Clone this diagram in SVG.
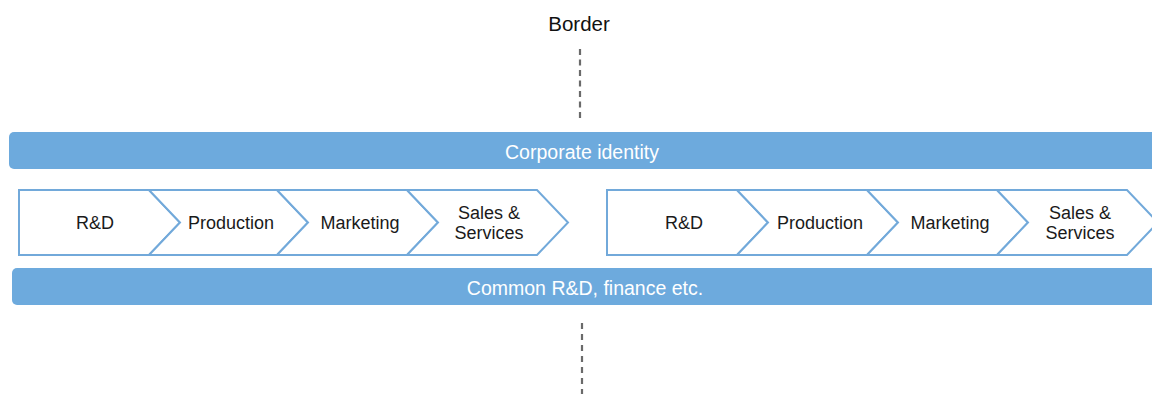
<svg xmlns="http://www.w3.org/2000/svg" width="1152" height="394" viewBox="0 0 1152 394">
<style>
.bar{fill:#6daadd}
.chev{fill:#ffffff;stroke:#72a9da;stroke-width:2;stroke-linejoin:miter}
.lbl{font-family:"Liberation Sans",Arial,sans-serif;font-size:18px;fill:#1a1a1a;text-anchor:middle;dominant-baseline:central}
.blbl{font-family:"Liberation Sans",Arial,sans-serif;font-size:19.5px;fill:#ffffff;text-anchor:middle;dominant-baseline:central}
.dash{stroke:#6a6a6a;stroke-width:2.2;fill:none}
</style>
<rect width="1152" height="394" fill="#ffffff"/>
<g id="connectors">
<line class="dash" x1="580" y1="49" x2="580" y2="119" stroke-dasharray="6,4.5"/>
<line class="dash" x1="582" y1="323" x2="582" y2="394" stroke-dasharray="6,5"/>
</g>
<g id="border-label"><text x="579" y="23" class="lbl" style="font-size:20.5px;fill:#111">Border</text></g>
<g id="corporate-identity">
<rect class="bar" x="9" y="132" width="1160" height="37" rx="5"/>
<text class="blbl" x="582" y="152">Corporate identity</text>
</g>
<g id="common">
<rect class="bar" x="12" y="268" width="1160" height="37" rx="5"/>
<text class="blbl" x="585" y="288">Common R&amp;D, finance etc.</text>
</g>
<g id="rd1">
<polygon class="chev" points="19,190 149,190 180,222.5 149,255 19,255"/>
<text class="lbl" x="95" y="223">R&amp;D</text>
</g>
<g id="production1">
<polygon class="chev" points="149,190 277,190 308,222.5 277,255 149,255 180,222.5"/>
<text class="lbl" x="231" y="223">Production</text>
</g>
<g id="marketing1">
<polygon class="chev" points="277,190 407,190 438,222.5 407,255 277,255 308,222.5"/>
<text class="lbl" x="360" y="223">Marketing</text>
</g>
<g id="sales1">
<polygon class="chev" points="407,190 537,190 568,222.5 537,255 407,255 438,222.5"/>
<text class="lbl" x="489" y="213">Sales &amp;</text>
<text class="lbl" x="489" y="233">Services</text>
</g>
<g id="rd2">
<polygon class="chev" points="607,190 737,190 768,222.5 737,255 607,255"/>
<text class="lbl" x="684" y="223">R&amp;D</text>
</g>
<g id="production2">
<polygon class="chev" points="737,190 867,190 898,222.5 867,255 737,255 768,222.5"/>
<text class="lbl" x="820" y="223">Production</text>
</g>
<g id="marketing2">
<polygon class="chev" points="867,190 997,190 1028,222.5 997,255 867,255 898,222.5"/>
<text class="lbl" x="950" y="223">Marketing</text>
</g>
<g id="sales2">
<polygon class="chev" points="997,190 1127,190 1158,222.5 1127,255 997,255 1028,222.5"/>
<text class="lbl" x="1080" y="213">Sales &amp;</text>
<text class="lbl" x="1080" y="233">Services</text>
</g>
</svg>
